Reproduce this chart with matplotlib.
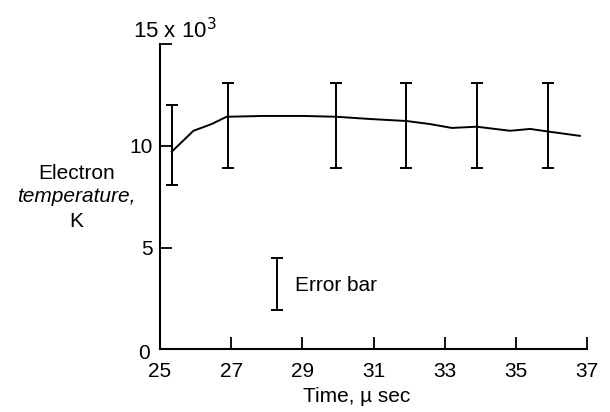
import numpy as np
import matplotlib
matplotlib.use('Agg')
import matplotlib.pyplot as plt
import matplotlib.transforms as mtransforms

plt.rcParams['font.family'] = ['Liberation Sans', 'DejaVu Sans']

# temperature curve (units of 10^3 K)
t_line = [25.33, 25.94, 26.45, 26.87, 27.9, 29.03, 29.96, 30.9, 31.93,
          32.59, 33.2, 33.9, 34.84, 35.4, 35.96, 36.8]
temp_line = [9.72, 10.75, 11.08, 11.44, 11.48, 11.48, 11.44, 11.33, 11.23,
             11.08, 10.89, 10.95, 10.75, 10.84, 10.7, 10.5]

# error bars
t_err = [25.33, 26.9, 29.95, 31.9, 33.9, 35.9]
err_low = [8.1, 8.9, 8.9, 8.9, 8.9, 8.9]
err_high = [12.0, 13.1, 13.1, 13.1, 13.1, 13.1]

# sample error bar
t_key = 28.3
key_low = 1.9
key_high = 4.5

fs = 15

fig = plt.figure(figsize=(6.1, 4.12), dpi=100)
ax = fig.add_axes([0.2623, 0.1529, 0.70, 0.7391])

ax.plot(t_line, temp_line, color='black', lw=1.4)

mid = [(a + b) / 2 for a, b in zip(err_low, err_high)]
half = [(b - a) / 2 for a, b in zip(err_low, err_high)]
ax.errorbar(t_err, mid, yerr=half, fmt='none', ecolor='black',
            elinewidth=1.4, capsize=4, capthick=1.4)

ax.errorbar([t_key], [(key_low + key_high) / 2], yerr=[(key_high - key_low) / 2],
            fmt='none', ecolor='black', elinewidth=1.4, capsize=4, capthick=1.4)
ax.text(28.8, 3.15, 'Error bar', fontsize=fs, va='center', ha='left')

ax.set_xlim(25, 37)
ax.set_ylim(0, 15)
ax.set_xticks([25, 27, 29, 31, 33, 35, 37])
ax.set_yticks([0, 5, 10, 15])
ax.set_yticklabels(['0', '5', '10', ''])
ax.tick_params(direction='in', length=8.5, width=1.3, labelsize=fs)
ax.tick_params(axis='x', pad=9)
ax.tick_params(axis='y', pad=5)

# nudge the "0" label down a little, like the original
lab0 = ax.get_yticklabels()[0]
lab0.set_transform(lab0.get_transform() + mtransforms.ScaledTranslation(-2 / 72, -2 / 72, fig.dpi_scale_trans))

for s in ['top', 'right']:
    ax.spines[s].set_visible(False)
for s in ['left', 'bottom']:
    ax.spines[s].set_linewidth(1.5)

fig.text(175 / 610, 1 - 38 / 412, r'15 x 10$^3$', fontsize=fs + 1, ha='center', va='baseline')
fig.text(0.125, 0.580, 'Electron', fontsize=fs, ha='center', va='center')
fig.text(0.125, 0.523, 'temperature,', fontsize=fs, ha='center', va='center', style='italic')
fig.text(0.125, 0.462, 'K', fontsize=fs, ha='center', va='center')

fig.text(357 / 610, 1 - 396 / 412, 'Time, \u00b5 sec', fontsize=fs, ha='center', va='center')

plt.savefig('out.png', dpi=100)
